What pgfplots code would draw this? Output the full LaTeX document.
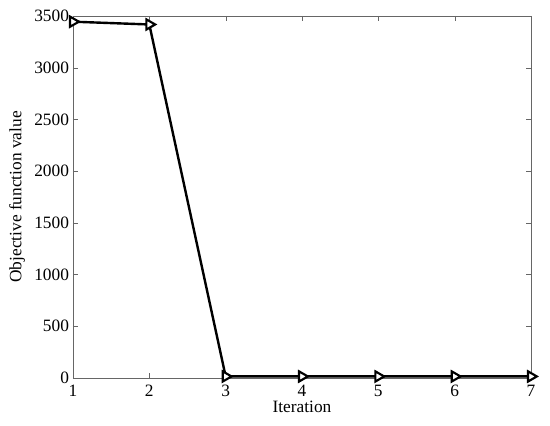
\documentclass[border=0pt]{standalone}
\usepackage{pgfplots}
\pgfplotsset{compat=1.18}
\usepackage{fontspec}
\setmainfont{Liberation Serif}
\begin{document}
\begin{tikzpicture}
\begin{axis}[
  scale only axis,
  width=343.5pt, height=271.5pt,
  xmin=1, xmax=7, ymin=0, ymax=3500,
  xtick={1,...,7}, ytick={0,500,...,3500},
  tick align=inside,
  axis line style={gray!80!black, line width=0.6pt},
  major tick style={gray!80!black},
  major tick length=4pt,
  tick label style={font=\fontsize{13}{15}\selectfont},
  label style={font=\fontsize{13}{15}\selectfont},
  xticklabel style={yshift=-2pt},
  yticklabel style={xshift=0.5pt},
  /pgf/number format/assume math mode=true,
  /pgf/number format/1000 sep={},
  scaled y ticks=false,
  xlabel={Iteration},
  ylabel={Objective function value},
  xlabel style={yshift=4pt},
  clip=false,
]
\addplot[black, line width=1.8pt, mark=triangle*, mark size=4.4pt, mark options={rotate=-90, fill=white, line width=1.6pt, line join=miter}]
coordinates {(1,3445) (2,3418) (3,15) (4,15) (5,15) (6,15) (7,15)};
\end{axis}
\pgfresetboundingbox
\path ([shift={(-54.75pt,-35.25pt)}]current axis.south west) rectangle ([shift={(14.25pt,12pt)}]current axis.north east);
\end{tikzpicture}
\end{document}
